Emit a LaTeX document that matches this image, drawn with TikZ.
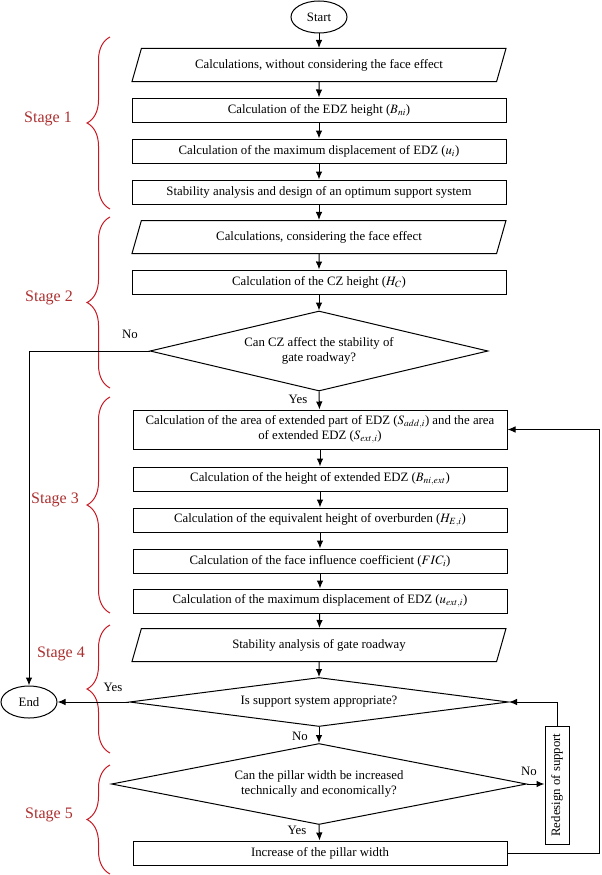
\documentclass[tikz,border=0pt]{standalone}
\usepackage{mathptmx}
\usepackage{fontspec}
\setmainfont{Liberation Serif}
\usepackage{tikz}
\usetikzlibrary{arrows.meta,shapes.geometric,decorations.pathreplacing}

\definecolor{stagered}{RGB}{172,48,48}
\definecolor{bracered}{RGB}{200,25,35}

\begin{document}
\begin{tikzpicture}
[x=1pt, y=1pt,
 font=\fontsize{12.8}{15}\selectfont,
 term/.style ={ellipse, draw, line width=1pt, minimum width=56pt, minimum height=32pt, inner sep=0pt},
 io/.style ={trapezium, trapezium left angle=63, trapezium right angle=117, trapezium stretches body=true, draw, line width=1pt, minimum width=374pt, minimum height=33pt},
 box/.style ={rectangle, draw, line width=1pt, minimum width=374pt, minimum height=24pt, align=center},
 test/.style ={diamond, draw, line width=1pt, align=center, inner sep=0pt},
 line/.style ={draw, line width=1pt, -{Latex[length=8pt,width=6.5pt]}},
 stage/.style ={text=stagered, font=\fontsize{16}{19}\selectfont},
 brace/.style ={draw=bracered, line width=1pt, decorate, decoration={brace, amplitude=23pt}}]
\useasboundingbox (0,0) rectangle (602,-875);
\draw (319,-17) node[term] (start) {Start};
\draw (319,-65) node[io] (in1) {Calculations, without considering the face effect};
\draw (319,-110) node[box] (edz) {Calculation of the EDZ height ($B_{ni}$)};
\draw (319,-151) node[box] (disp) {Calculation of the maximum displacement of EDZ ($u_i$)};
\draw (319,-192) node[box] (stab) {Stability analysis and design of an optimum support system};
\draw (319,-237) node[io] (in2) {Calculations, considering the face effect};
\draw (319,-282) node[box] (cz) {Calculation of the CZ height ($H_C$)};
\draw (319,-351) node[test, aspect=4.2, minimum width=338pt, minimum height=80pt] (czq) {Can CZ affect the stability of\\gate roadway?};
\draw (320,-429.5) node[box, minimum height=39pt] (area) {Calculation of the area of extended part of EDZ ($S_{add,i}$) and the area\\of extended EDZ ($S_{ext,i}$)};
\draw (320,-479) node[box] (hext) {Calculation of the height of extended EDZ ($B_{ni,ext}$)};
\draw (320,-520) node[box] (heq) {Calculation of the equivalent height of overburden ($H_{E,i}$)};
\draw (320,-561) node[box] (fic) {Calculation of the face influence coefficient ($FIC_i$)};
\draw (320,-601) node[box] (dext) {Calculation of the maximum displacement of EDZ ($u_{ext,i}$)};
\draw (319,-645) node[io] (in3) {Stability analysis of gate roadway};
\draw (319,-702) node[test, aspect=7.7, minimum width=379pt, minimum height=49pt] (supq) {Is support system appropriate?};
\draw (29,-702) node[term] (end) {End};
\draw (319,-784) node[test, aspect=5.1, minimum width=415pt, minimum height=81pt] (pilq) {Can the pillar width be increased\\technically and economically?};
\draw (557,-785) node[box, minimum width=24pt, minimum height=118pt] (redes) {\rotatebox{90}{Redesign of support}};
\draw (320,-853) node[box] (inc) {Increase of the pillar width};
% decision labels
\draw (130,-334) node (no1) {No};
\draw (298,-399) node (yes1) {Yes};
\draw (113,-687) node (yes2) {Yes};
\draw (300,-736) node (no2) {No};
\draw (529,-771) node (no3) {No};
\draw (297,-830) node (yes3) {Yes};
% stages
\draw (48,-119) node[stage] (s1) {Stage 1};
\draw (49,-298) node[stage] (s2) {Stage 2};
\draw (55,-500) node[stage] (s3) {Stage 3};
\draw (61,-654) node[stage] (s4) {Stage 4};
\draw (49,-815) node[stage] (s5) {Stage 5};
\draw[brace] (110,-209) -- (110,-37);
\draw[brace] (110,-388) -- (110,-217);
\draw[brace] (110,-613) -- (110,-397);
\draw[brace] (110,-753) -- (110,-625);
\draw[brace] (110,-874) -- (110,-765);
% flow
\draw[line] (start) -- (in1);
\draw[line] (in1) -- (edz);
\draw[line] (edz) -- (disp);
\draw[line] (disp) -- (stab);
\draw[line] (stab) -- (in2);
\draw[line] (in2) -- (cz);
\draw[line] (cz) -- (czq);
\draw[line] (czq.south) -- (area);
\draw[line] (area) -- (hext);
\draw[line] (hext) -- (heq);
\draw[line] (heq) -- (fic);
\draw[line] (fic) -- (dext);
\draw[line] (dext) -- (in3);
\draw[line] (in3) -- (supq);
\draw[line] (supq.south) -- (pilq.north);
\draw[line] (pilq.south) -- (inc);
\draw[line] (czq.west) -| (end.north);
\draw[line] (supq.west) -- (end.east);
\draw[line] (pilq.east) -- (pilq.east -| redes.west);
\draw[line] (redes.north) |- (supq.east);
\coordinate (loop) at (599,-853);
\draw[line] (inc.east) -- (loop) |- (area.east);
\end{tikzpicture}
\end{document}
